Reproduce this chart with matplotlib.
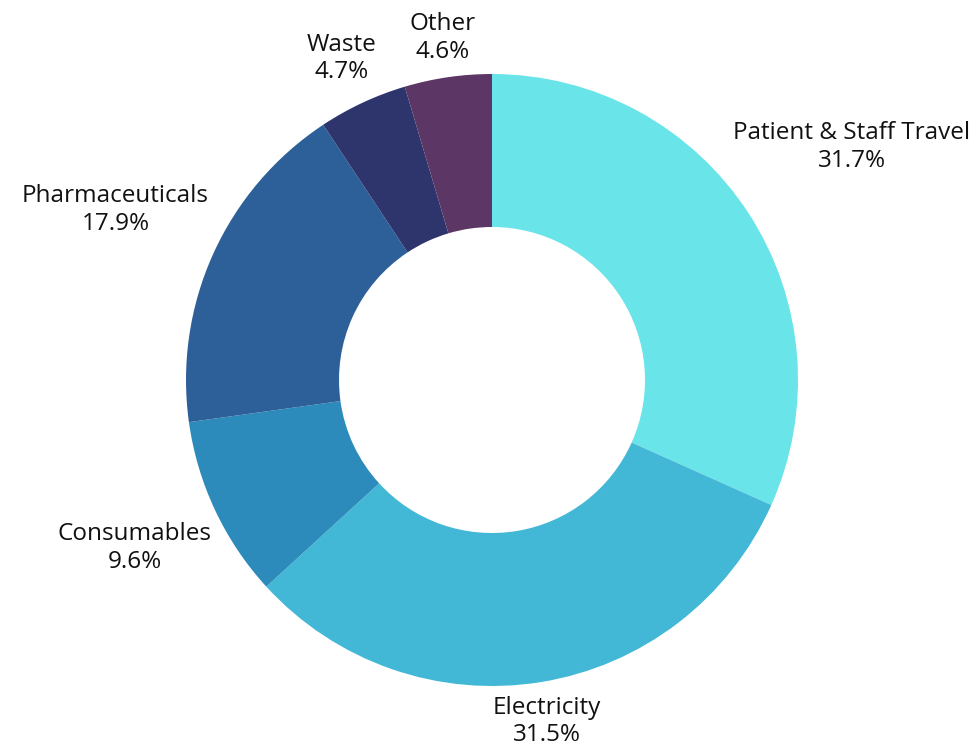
import numpy as np
import matplotlib.pyplot as plt

categories = ["Patient & Staff Travel", "Electricity", "Consumables",
              "Pharmaceuticals", "Waste", "Other"]
shares = [31.7, 31.5, 9.6, 17.9, 4.7, 4.6]
colors = ["#69E4E8", "#42B8D6", "#2C8BBA", "#2D5F98", "#2E346C", "#5C3665"]
# how far out each label sits, in units of the outer radius
label_dist = [1.40, 1.13, 1.29, 1.35, 1.16, 1.13]

plt.rcParams['font.family'] = ['Open Sans', 'DejaVu Sans']

fig = plt.figure(figsize=(9.73, 7.51), dpi=100)
ax = fig.add_axes([0, 0, 1, 1])

wedges, _ = ax.pie(shares, colors=colors, startangle=90, counterclock=False,
                   radius=1.0, wedgeprops=dict(width=0.5, linewidth=0))

for w, name, val, d in zip(wedges, categories, shares, label_dist):
    ang = np.deg2rad((w.theta1 + w.theta2) / 2)
    ax.text(d * np.cos(ang), d * np.sin(ang), f"{name}\n{val}%",
            ha='center', va='center', fontsize=17.5, color='#111111',
            linespacing=1.2)

ax.set_xlim(-492 / 306, (973 - 492) / 306)
ax.set_ylim(-371 / 306, 380 / 306)
ax.set_aspect('equal')
ax.axis('off')

fig.savefig("out.png", dpi=100, facecolor='white')
